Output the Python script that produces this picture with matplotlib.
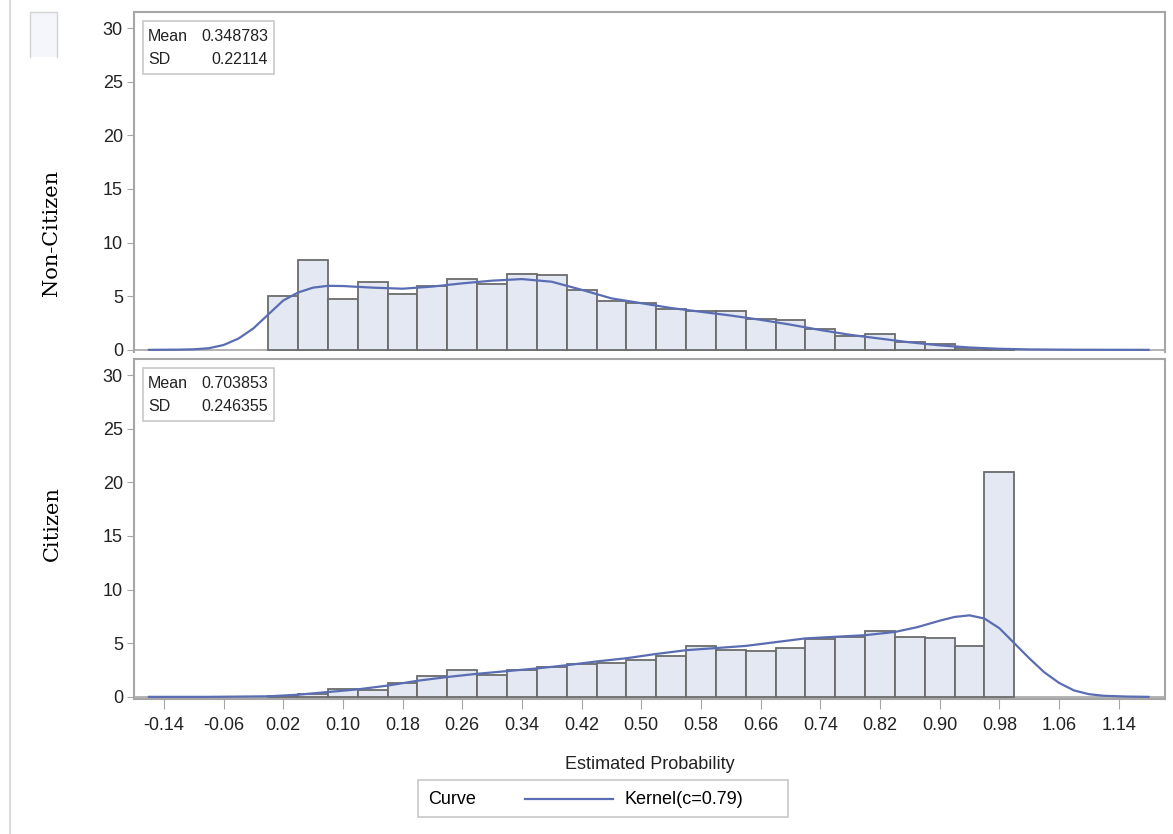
import matplotlib
matplotlib.use('Agg')
import matplotlib.pyplot as plt
from matplotlib.lines import Line2D
from matplotlib.patches import Rectangle

# histogram bins: width 0.04, left edges from 0.00
bin_left = [round(0.04 * i, 2) for i in range(25)]
noncit_pct = [5.05, 8.4, 4.75, 6.3, 5.2, 5.95, 6.65, 6.1, 7.05, 7.0, 5.6, 4.6, 4.4,
              3.85, 3.6, 3.65, 2.9, 2.75, 1.95, 1.3, 1.45, 0.7, 0.5, 0.15, 0.1]
cit_pct = [0.1, 0.25, 0.7, 0.6, 1.3, 1.9, 2.55, 2.0, 2.5, 2.75, 3.05, 3.15, 3.4,
           3.8, 4.75, 4.4, 4.3, 4.6, 5.4, 5.55, 6.1, 5.55, 5.45, 4.75, 21.0]

# kernel curves
noncit_kx = [-0.16, -0.12, -0.10, -0.08, -0.06, -0.04, -0.02, 0.00, 0.02, 0.04, 0.06, 0.08,
             0.10, 0.14, 0.18, 0.22, 0.26, 0.30, 0.34, 0.38, 0.42, 0.46, 0.50, 0.54, 0.58,
             0.62, 0.66, 0.70, 0.74, 0.78, 0.82, 0.86, 0.90, 0.94, 0.98, 1.02, 1.08, 1.18]
noncit_ky = [0.0, 0.02, 0.05, 0.15, 0.45, 1.05, 2.0, 3.3, 4.6, 5.35, 5.8, 5.97,
             5.95, 5.8, 5.7, 5.9, 6.2, 6.45, 6.6, 6.35, 5.6, 4.8, 4.35, 3.9, 3.55,
             3.2, 2.8, 2.35, 1.85, 1.4, 1.05, 0.7, 0.42, 0.22, 0.1, 0.04, 0.01, 0.0]
cit_kx = [-0.16, -0.08, 0.00, 0.04, 0.08, 0.12, 0.16, 0.20, 0.24, 0.28, 0.32, 0.36, 0.40,
          0.44, 0.48, 0.52, 0.56, 0.60, 0.64, 0.68, 0.72, 0.76, 0.80, 0.84, 0.87, 0.90,
          0.92, 0.94, 0.96, 0.98, 1.00, 1.02, 1.04, 1.06, 1.08, 1.10, 1.12, 1.15, 1.18]
cit_ky = [0.0, 0.0, 0.05, 0.2, 0.45, 0.7, 1.05, 1.5, 1.85, 2.15, 2.4, 2.65, 2.95,
          3.3, 3.6, 4.0, 4.35, 4.55, 4.75, 5.1, 5.45, 5.6, 5.75, 6.05, 6.5, 7.1,
          7.45, 7.6, 7.3, 6.4, 5.0, 3.6, 2.3, 1.3, 0.6, 0.25, 0.1, 0.03, 0.0]

stats = [('0.348783', '0.22114'), ('0.703853', '0.246355')]
row_labels = ['Non-Citizen', 'Citizen']
xtick_vals = [round(-0.14 + 0.08 * k, 2) for k in range(17)]
yticks = [0, 5, 10, 15, 20, 25, 30]

bar_col = '#e3e8f2'
bar_edge = '#6b6b6b'
curve_col = '#5b6db2'
frame_col = '#a6a6a6'

W, H = 1173, 834
fig = plt.figure(figsize=(W / 100, H / 100), dpi=100)
plt.rcParams['font.family'] = ['Liberation Sans', 'DejaVu Sans']


def rect(l, t, r, b):
    return [l / W, 1 - b / H, (r - l) / W, (b - t) / H]


ax1 = fig.add_axes(rect(134, 12, 1165, 352))
ax2 = fig.add_axes(rect(134, 359, 1165, 699))

panels = [(ax1, noncit_pct, noncit_kx, noncit_ky), (ax2, cit_pct, cit_kx, cit_ky)]
for i, (ax, pct, kx, ky) in enumerate(panels):
    ax.bar(bin_left, pct, width=0.04, align='edge', color=bar_col,
           edgecolor=bar_edge, linewidth=1.3, zorder=2)
    ax.plot(kx, ky, color=curve_col, linewidth=1.6, zorder=3)
    ax.axhline(0, color=frame_col, linewidth=1.2, zorder=1)
    ax.set_xlim(-0.18, 1.202)
    ax.set_ylim(-0.2, 31.5)
    ax.set_yticks(yticks)
    ax.tick_params(axis='y', length=5, color=frame_col, labelsize=13, pad=3,
                   labelcolor='#222222')
    for s in ax.spines.values():
        s.set_color(frame_col)
        s.set_linewidth(1.5)
    # stats box
    ax.text(0.0136, 0.929, 'Mean', transform=ax.transAxes, fontsize=11.5,
            va='center', ha='left', zorder=5, color='#222222')
    ax.text(0.0136, 0.859, 'SD', transform=ax.transAxes, fontsize=11.5,
            va='center', ha='left', zorder=5, color='#222222')
    ax.text(0.130, 0.929, stats[i][0], transform=ax.transAxes, fontsize=11.5,
            va='center', ha='right', zorder=5, color='#222222')
    ax.text(0.130, 0.859, stats[i][1], transform=ax.transAxes, fontsize=11.5,
            va='center', ha='right', zorder=5, color='#222222')
    ax.add_patch(Rectangle((0.0087, 0.818), 0.127, 0.156, transform=ax.transAxes,
                           fill=False, edgecolor='#c8c8c8', linewidth=1.2, zorder=4))

ax1.spines['bottom'].set_visible(False)
ax1.set_xticks([])
ax2.set_xticks(xtick_vals)
ax2.set_xticklabels(['%.2f' % v for v in xtick_vals])
ax2.tick_params(axis='x', length=7, color=frame_col, labelsize=13, pad=6,
                labelcolor='#222222')
ax2.set_xlabel('Estimated Probability', fontsize=13, labelpad=16, color='#222222')

fig.text(52 / W, 1 - 233 / H, row_labels[0], rotation=90, ha='center', va='center',
         family='DejaVu Serif', fontsize=15)
fig.text(52 / W, 1 - 524 / H, row_labels[1], rotation=90, ha='center', va='center',
         family='DejaVu Serif', fontsize=15)

# legend box
fig.patches.append(Rectangle((418 / W, 1 - 817 / H), 370 / W, 37 / H, transform=fig.transFigure,
                             fill=False, edgecolor='#c8c8c8', linewidth=1.2))
fig.text(428 / W, 1 - 799 / H, 'Curve', fontsize=13, va='center', ha='left')
fig.add_artist(Line2D([525 / W, 613 / W], [1 - 799 / H] * 2, color=curve_col, linewidth=1.6))
fig.text(625 / W, 1 - 799 / H, 'Kernel(c=0.79)', fontsize=13, va='center', ha='left')

# page edge bits on the left
fig.add_artist(Line2D([10 / W, 10 / W], [0, 1], color='#d4d4d4', linewidth=1.2))
fig.patches.append(Rectangle((30 / W, 1 - 57 / H), 27 / W, 45 / H, transform=fig.transFigure,
                             facecolor='#f4f6fb', edgecolor='none'))
fig.add_artist(Line2D([30 / W, 30 / W, 57 / W, 57 / W], [1 - 57 / H, 1 - 12 / H, 1 - 12 / H, 1 - 57 / H],
                      color='#d4d4d4', linewidth=1.0))

fig.savefig('out.png', dpi=100)
